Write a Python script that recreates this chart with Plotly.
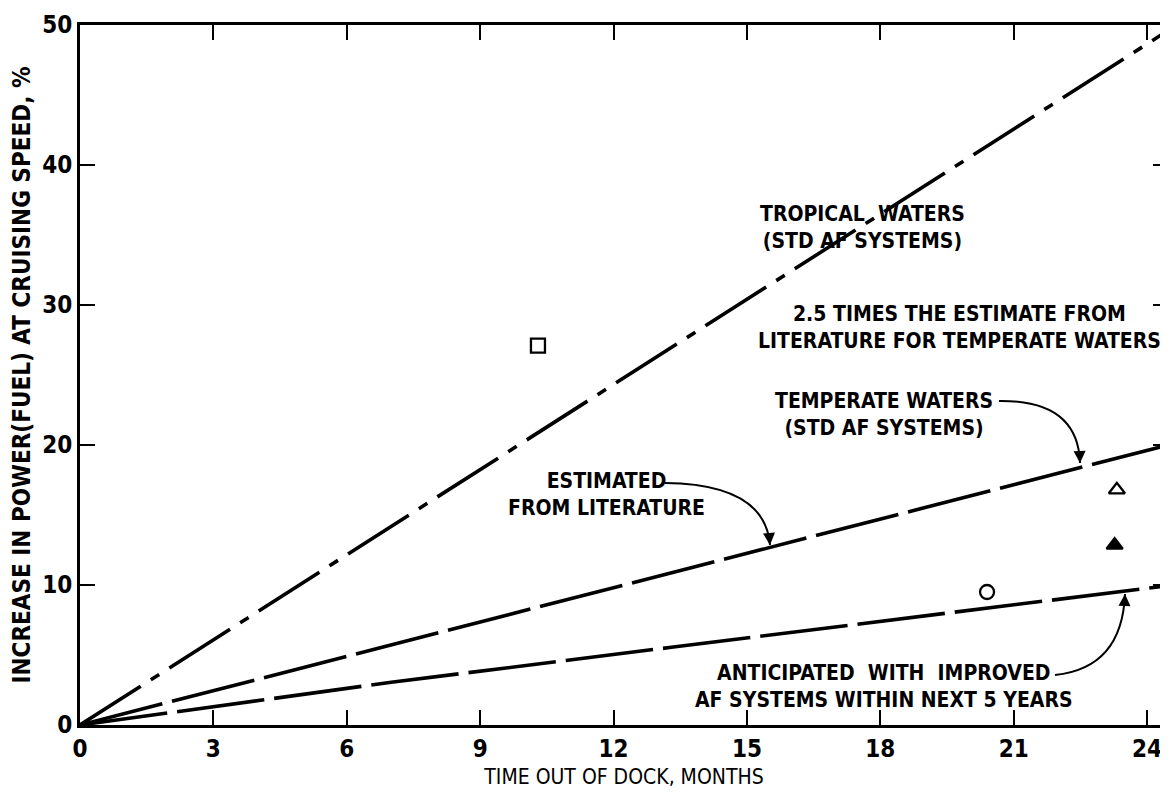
import plotly.graph_objects as go

# ---- data ----
months_tropical = [0, 24.47]
tropical = [0, 49.6]
months_temperate = [0, 24.47]
temperate = [0, 20.0]
months_anticipated = [0, 7.0, 13.3, 17.8, 24.47]
anticipated = [0, 3.05, 5.55, 7.3, 9.95]

pt_square = ([10.3], [27.1])
pt_open_tri = ([23.32], [16.8])
pt_filled_tri = ([23.27], [12.85])
pt_open_circle = ([20.4], [9.5])
pt_filled_circle = ([24.53], [7.6])

x_ticks = [0, 3, 6, 9, 12, 15, 18, 21, 24]
y_ticks = [0, 10, 20, 30, 40, 50]

FONT = "DejaVu Sans Condensed, DejaVu Sans, sans-serif"

# page body has an 8px margin; plot area spans page px 80..1168 (x) and 25..725 (y)
OFF = 8
L, T = 80 - OFF, 25 - OFF
PW, PH = 1088, 700
XMAX = 24.47
PXM = PW / XMAX      # px per month
PYU = PH / 50.0      # px per percent

fig = go.Figure()
fig.add_trace(go.Scatter(x=months_tropical, y=tropical, mode="lines",
                         line=dict(color="black", width=3.6, dash="72px,12px,10px,12px"),
                         showlegend=False))
fig.add_trace(go.Scatter(x=months_temperate, y=temperate, mode="lines",
                         line=dict(color="black", width=3.6, dash="85px,10px"),
                         showlegend=False))
fig.add_trace(go.Scatter(x=months_anticipated, y=anticipated, mode="lines",
                         line=dict(color="black", width=3.6, dash="88px,10px"),
                         showlegend=False))

def pts(p, symbol, size):
    fig.add_trace(go.Scatter(x=p[0], y=p[1], mode="markers", cliponaxis=True,
                             marker=dict(symbol=symbol, size=size, color="black",
                                         line=dict(color="black", width=2.3)),
                             showlegend=False))

pts(pt_square, "square-open", 14)
pts(pt_open_tri, "triangle-up-open", 14)
pts(pt_filled_tri, "triangle-up", 14)
pts(pt_open_circle, "circle-open", 14)
pts(pt_filled_circle, "circle", 15)

def p2d(px, py):
    """page pixel -> data units"""
    return (px - 80) / PXM, (725 - py) / PYU

ann_font = dict(family=FONT, size=21, color="black", weight="bold")
labels = [
    (862, 227, "TROPICAL  WATERS<br>(STD AF SYSTEMS)"),
    (959, 327, "2.5 TIMES THE ESTIMATE FROM<br>LITERATURE FOR TEMPERATE WATERS"),
    (884, 414, "TEMPERATE WATERS<br>(STD AF SYSTEMS)"),
    (606, 494, "ESTIMATED<br>FROM LITERATURE"),
    (884, 686, "ANTICIPATED  WITH  IMPROVED<br>AF SYSTEMS WITHIN NEXT 5 YEARS"),
]
annotations = []
for px, py, txt in labels:
    x, y = p2d(px, py)
    annotations.append(dict(x=x, y=y, xref="x", yref="y",
                            text=txt, showarrow=False, font=ann_font, align="center",
                            xanchor="center", yanchor="middle"))

curves = [
    ((999, 401), (1078, 400), (1080, 463)),
    ((665, 483), (765, 484), (770, 545)),
    ((1055, 675), (1122, 668), (1125, 594)),
]
shapes = []
for a, c, b in curves:
    ax_, ay_ = p2d(*a)
    cx, cy = p2d(*c)
    bx, by = p2d(*b)
    shapes.append(dict(type="path", xref="x", yref="y",
                       path=f"M {ax_},{ay_} Q {cx},{cy} {bx},{by}",
                       line=dict(color="black", width=2)))
    annotations.append(dict(x=bx, y=by, xref="x", yref="y", ax=(c[0] - b[0]) * 0.12,
                            ay=(c[1] - b[1]) * 0.12, axref="pixel", ayref="pixel",
                            text="", showarrow=True, arrowhead=2, arrowsize=1.2,
                            arrowwidth=2, arrowcolor="black"))

fig.update_layout(
    width=L + PW, height=T + PH + 71,
    margin=dict(l=L, r=0, t=T, b=71, autoexpand=False),
    paper_bgcolor="white", plot_bgcolor="white",
    shapes=shapes, annotations=annotations,
    font=dict(family=FONT, color="black"),
)
fig.update_xaxes(range=[0, XMAX], tickvals=x_ticks, ticktext=[str(v) for v in x_ticks],
                 ticks="inside", ticklen=15, tickwidth=2, tickcolor="black",
                 showline=True, linewidth=3, linecolor="black", mirror="ticks",
                 showgrid=False, zeroline=False, automargin=False,
                 tickfont=dict(family=FONT, size=24, weight="bold"),
                 title=dict(text="TIME OUT OF DOCK, MONTHS", standoff=8,
                            font=dict(family=FONT, size=21)))
fig.update_yaxes(range=[0, 50], tickvals=y_ticks, ticktext=[str(v) for v in y_ticks],
                 ticks="inside", ticklen=15, tickwidth=2, tickcolor="black",
                 showline=True, linewidth=3, linecolor="black", mirror="ticks",
                 showgrid=False, zeroline=False, automargin=False,
                 tickfont=dict(family=FONT, size=24, weight="bold"),
                 title=dict(text="INCREASE IN POWER(FUEL) AT CRUISING SPEED, %", standoff=8,
                            font=dict(family=FONT, size=24, weight="bold")))

fig.write_html("out.html")
